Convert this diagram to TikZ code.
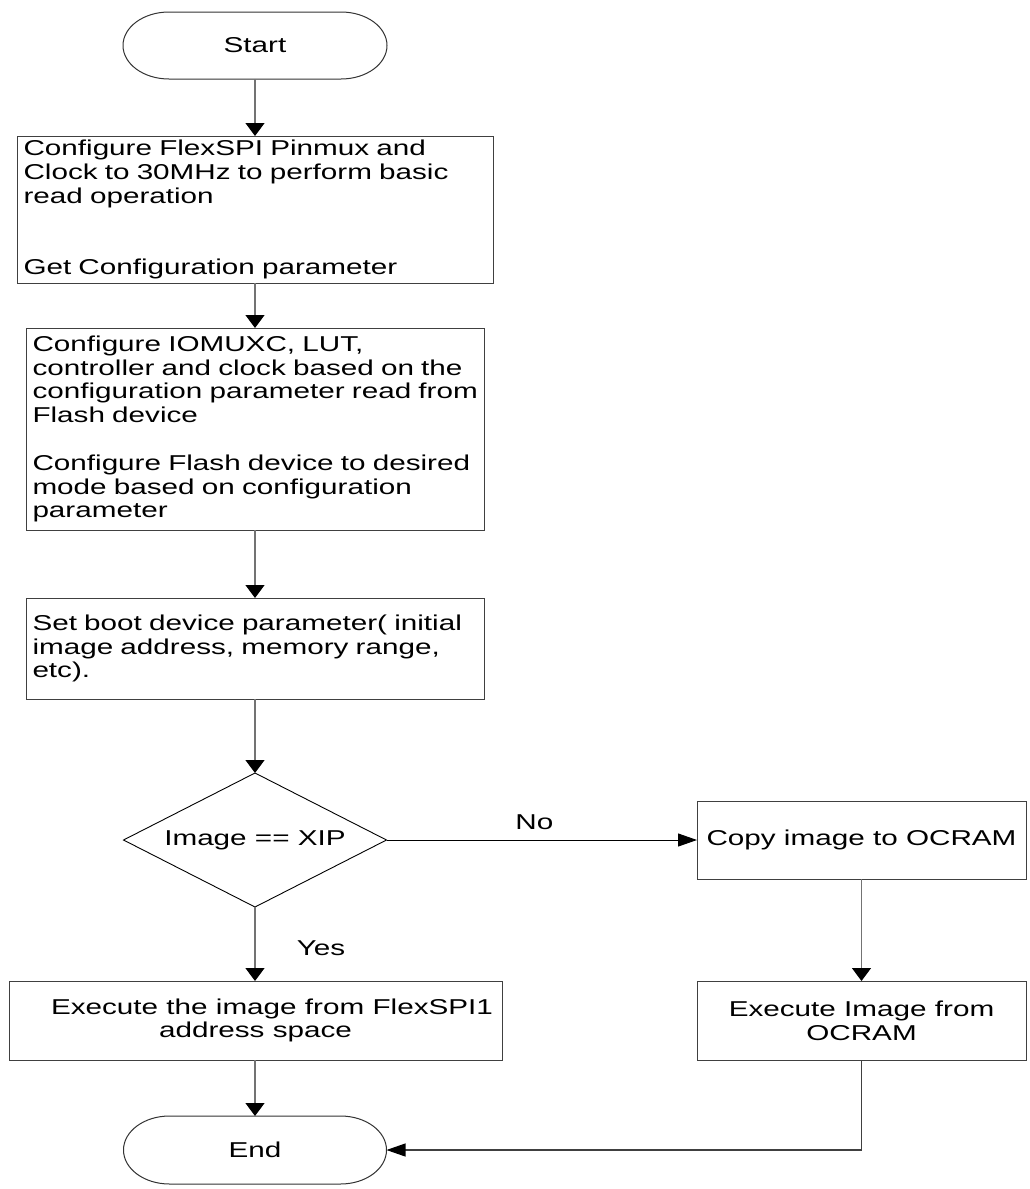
\documentclass[tikz,border=0pt]{standalone}
\usepackage{fontspec}
\setmainfont{Liberation Sans}[FakeStretch=1.38]
\usetikzlibrary{arrows.meta,shapes.geometric,calc}

\newcommand\stadiumpath[2]{%
  \draw[shapeline] ([xshift=46pt]#1.north west) -- ([xshift=-46pt]#1.north east)
    arc[start angle=90,end angle=-90,x radius=46pt,y radius=#2]
    -- ([xshift=46pt]#1.south west)
    arc[start angle=270,end angle=90,x radius=46pt,y radius=#2] -- cycle;}

\tikzset{
  every node/.style={font=\fontsize{21.5pt}{23.8pt}\selectfont, text=black, outer sep=0pt},
  shapeline/.style={draw=black!80, line width=1pt},
  procbox/.style={rectangle, draw=black!75, line width=1pt, inner xsep=6.5pt, inner ysep=0pt, align=left},
  cbox/.style={rectangle, draw=black!75, line width=1pt, inner sep=0pt, align=center},
  termnode/.style={rectangle, inner sep=0pt},
  decnode/.style={diamond, draw=black, line width=0.9pt, inner sep=0pt, aspect=1.96,
                  minimum width=263pt, minimum height=134pt},
  vflow/.style={draw=black!55, line width=1.3pt, -{Triangle[width=19pt,length=13pt,color=black]}},
  hflow/.style={draw=black, line width=1pt, -{Triangle[width=13pt,length=19pt,color=black]}},
  lbl/.style={inner sep=0pt}
}

\begin{document}
\begin{tikzpicture}[x=1pt,y=1pt]
\useasboundingbox (0,0) rectangle (1029,-1189);
\fill[white] (0,0) rectangle (1029,-1189);

% terminals
\node[termnode, minimum width=264pt, minimum height=67pt] (start) at (255,-45.5) {Start};
\stadiumpath{start}{33.5pt}
\node[termnode, minimum width=263pt, minimum height=68pt] (endn) at (255,-1150) {End};
\stadiumpath{endn}{34pt}

% process boxes
\node[procbox, text width=463pt, minimum height=147pt] (b1) at (255,-209.5)
  {\mbox{Configure FlexSPI Pinmux and}\\
   \mbox{Clock to 30MHz to perform basic}\\
   read operation\\[47.6pt]
   Get Configuration parameter};
\node[procbox, text width=445pt, minimum height=202pt] (b2) at (255,-429)
  {\mbox{Configure IOMUXC, LUT,}\\
   \mbox{controller and clock based on the}\\
   \mbox{configuration parameter read from}\\
   Flash device\\[23.8pt]
   \mbox{Configure Flash device to desired}\\
   \mbox{mode based on configuration}\\
   parameter};
\node[procbox, text width=445pt, minimum height=101pt] (b3) at (255,-648.5)
  {\mbox{Set boot device parameter( initial}\\
   \mbox{image address, memory range,}\\
   etc).};

% decision
\node[decnode] (dec) at (255,-840) {Image == XIP};

% right branch
\node[cbox, minimum width=329pt, minimum height=78pt] (copy) at (861.5,-840) {\mbox{Copy image to OCRAM}};
\node[cbox, minimum width=329pt, minimum height=79pt] (ocram) at (861.5,-1020.5) {Execute Image from\\OCRAM};

% left branch
\node[cbox, minimum width=493pt, minimum height=79pt] (flex) at (255.5,-1020.5)
  {\hspace*{33pt}Execute the image from FlexSPI1\\address space};

% connectors
\draw[vflow] (start.south) -- (b1.north);
\draw[vflow] (b1.south) -- (b2.north);
\draw[vflow] (b2.south) -- (b3.north);
\draw[vflow] (b3.south) -- (dec.north);
\draw[hflow] (dec.east) -- node[lbl, pos=0.476, yshift=18pt] (nolbl) {No} (copy.west);
\draw[vflow] (dec.south) -- node[lbl, pos=0.55, xshift=66pt] (yeslbl) {Yes} (dec.south |- flex.north);
\draw[vflow] (copy.south) -- (ocram.north);
\draw[vflow] (flex.south -| endn.north) -- (endn.north);
\draw[draw=black!75, line width=1.1pt, -{Triangle[width=13pt,length=19pt,color=black]}] (ocram.south) |- (endn.east);
\end{tikzpicture}
\end{document}
